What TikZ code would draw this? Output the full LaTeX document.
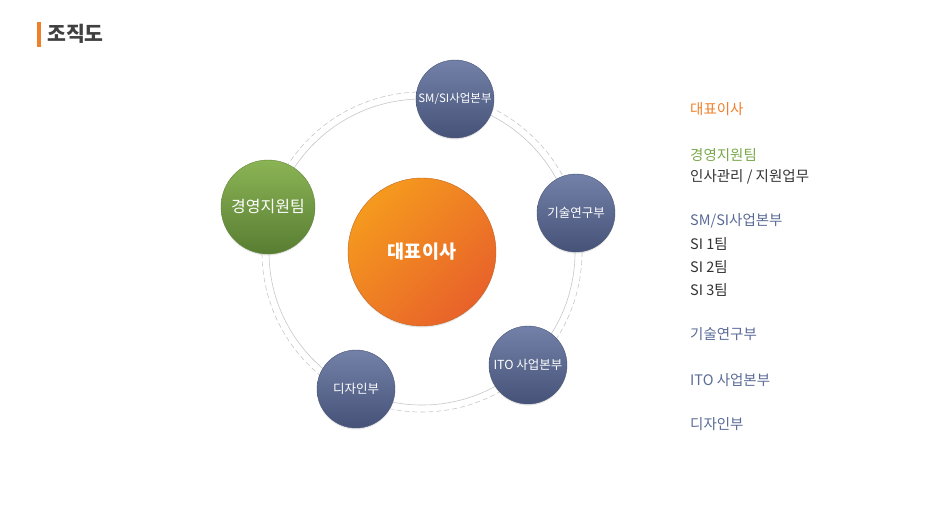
\documentclass[tikz,border=0pt]{standalone}
\usepackage{fontspec}
\setmainfont{Noto Sans CJK KR}
\usetikzlibrary{shadows}
\definecolor{ceoorange}{HTML}{F07F2A}
\definecolor{teamgreen}{HTML}{7AA84A}
\definecolor{deptblue}{HTML}{5A6A96}
\definecolor{subgray}{HTML}{333333}
\definecolor{bluetop}{HTML}{7381A8}
\definecolor{bluebot}{HTML}{465278}
\definecolor{greentop}{HTML}{8BB455}
\definecolor{greenbot}{HTML}{587D32}
\definecolor{orangetop}{HTML}{F59A1E}
\definecolor{orangebot}{HTML}{E8622A}
\tikzset{
  dept/.style={circle, draw=#1!80!black, line width=0.4pt, text=white, align=center,
    drop shadow={opacity=0.2, shadow xshift=0pt, shadow yshift=-1.5pt}},
  bluedept/.style={dept=deptblue, top color=bluetop, bottom color=bluebot,
    minimum size=78pt, inner sep=0pt, font=\fontsize{12.5}{15}\selectfont},
  listitem/.style={anchor=west, inner sep=0pt, font=\fontsize{14.5}{17}\selectfont}
}
\begin{document}
\begin{tikzpicture}[x=1pt, y=-1pt]
\useasboundingbox (0,0) rectangle (951,517);
\coordinate (origin) at (422,252);
% Title
\fill[ceoorange] (37,22) rectangle (41,47);
\node[anchor=west, inner sep=0pt, text=black!75, font=\fontsize{20.5}{24}\selectfont\bfseries] (title) at (47,34) {조직도};
% Draw rings
\draw[black!22, line width=0.6pt] (origin) circle [radius=153];
\draw[black!22, line width=0.6pt, dash pattern=on 5pt off 3pt] (origin) circle [radius=160];
% Draw center
\node[dept=ceoorange, top color=orangetop, bottom color=orangebot, shading angle=45,
  minimum size=148pt, font=\fontsize{18.5}{22}\selectfont\bfseries] (ceo) at (origin) {대표이사};
% Draw departments
\node[dept=teamgreen, top color=greentop, bottom color=greenbot,
  minimum size=94pt, inner sep=0pt, font=\fontsize{16}{19}\selectfont] (mgmt) at (268,207) {경영지원팀};
\node[bluedept, font=\fontsize{11.5}{13}\selectfont] (smsi) at (455,99) {SM/SI사업본부};
\node[bluedept] (rnd) at (576,213) {기술연구부};
\node[bluedept] (ito) at (528,365) {ITO 사업본부};
\node[bluedept] (design) at (356,389) {디자인부};
% Legend
\node[listitem, text=ceoorange] (l-ceo) at (690,109) {대표이사};
\node[listitem, text=teamgreen] (l-mgmt) at (690,155) {경영지원팀};
\node[listitem, text=subgray] (l-mgmt-a) at (690,177) {인사관리 / 지원업무};
\node[listitem, text=deptblue] (l-smsi) at (690,221) {SM/SI사업본부};
\node[listitem, text=subgray] (l-si1) at (690,244) {SI 1팀};
\node[listitem, text=subgray] (l-si2) at (690,267) {SI 2팀};
\node[listitem, text=subgray] (l-si3) at (690,290) {SI 3팀};
\node[listitem, text=deptblue] (l-rnd) at (690,334) {기술연구부};
\node[listitem, text=deptblue] (l-ito) at (690,380) {ITO 사업본부};
\node[listitem, text=deptblue] (l-design) at (690,424) {디자인부};
\end{tikzpicture}
\end{document}
